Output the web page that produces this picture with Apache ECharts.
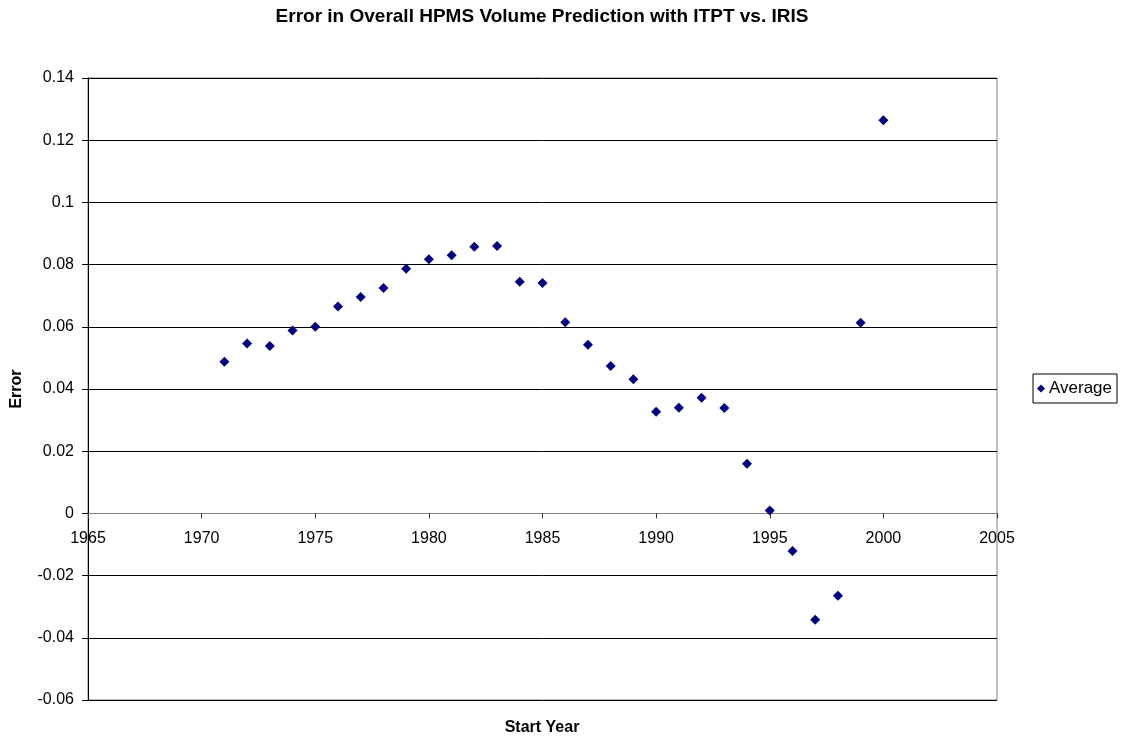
<!DOCTYPE html>
<html>
<head>
<meta charset="utf-8">
<script src="https://cdn.jsdelivr.net/npm/echarts@6/dist/echarts.min.js"></script>
<style>
html,body{margin:0;padding:0;background:#fff;}
#c{width:1123px;height:740px;}
</style>
</head>
<body>
<div id="c"></div>
<script>
var years = [1971,1972,1973,1974,1975,1976,1977,1978,1979,1980,1981,1982,1983,1984,1985,1986,1987,1988,1989,1990,1991,1992,1993,1994,1995,1996,1997,1998,1999,2000];
var average = [0.0488,0.0546,0.0538,0.0588,0.0600,0.0665,0.0696,0.0725,0.0787,0.0817,0.0830,0.0857,0.0860,0.0745,0.0741,0.0615,0.0542,0.0474,0.0431,0.0327,0.0340,0.0372,0.0339,0.0160,0.0009,-0.0121,-0.0342,-0.0265,0.0613,0.1264];
var seriesName = 'Average';
var titleText = 'Error in Overall HPMS Volume Prediction with ITPT vs. IRIS';
var xName = 'Start Year';
var yName = 'Error';

var font = 'Arial, "Liberation Sans", sans-serif';
var gridTop = 78, gridBottom = 40, yMin = -0.06, yMax = 0.14;
var plotH = 740 - gridTop - gridBottom;
var zeroOffset = -plotH * (0 - yMin) / (yMax - yMin);

var chart = echarts.init(document.getElementById('c'));
var pts = years.map(function(y,i){return [y, average[i]];});
chart.setOption({
  animation: false,
  backgroundColor: '#fff',
  graphic: [
    {type: 'text', x: 542, y: 17,
     style: {text: titleText, font: 'bold 19px ' + font, fill: '#000', align: 'center', verticalAlign: 'middle'}},
    {type: 'text', x: 542, y: 728,
     style: {text: xName, font: 'bold 16px ' + font, fill: '#000', align: 'center', verticalAlign: 'middle'}},
    {type: 'text', x: 17, y: 389, rotation: Math.PI/2,
     style: {text: yName, font: 'bold 16px ' + font, fill: '#000', align: 'center', verticalAlign: 'middle'}}
  ],
  legend: {
    left: 1033, top: 374, orient: 'vertical',
    borderColor: '#000', borderWidth: 1, padding: [6, 5, 6, 4],
    itemWidth: 8, itemHeight: 8, itemGap: 4,
    textStyle: {fontFamily: font, fontSize: 17, color: '#000', padding: [0,0,0,-1]},
    data: [{name: seriesName, icon: 'diamond'}]
  },
  grid: {left: 88, right: 126, top: gridTop, bottom: gridBottom, show: true, borderColor: '#808080', borderWidth: 1, backgroundColor: '#fff'},
  xAxis: {
    type: 'value', min: 1965, max: 2005, interval: 5,
    position: 'bottom', offset: zeroOffset,
    axisLine: {show: true, onZero: false, lineStyle: {color: '#808080', width: 1}},
    axisTick: {show: true, inside: false, length: 5, lineStyle: {color: '#333'}},
    axisLabel: {fontFamily: font, fontSize: 16, color: '#000', margin: 17,
      formatter: function(v){ return String(v); }},
    splitLine: {show: false}
  },
  yAxis: {
    type: 'value', min: yMin, max: yMax, interval: 0.02,
    axisLine: {show: true, onZero: false, lineStyle: {color: '#000', width: 1}},
    axisTick: {show: true, length: 6, lineStyle: {color: '#000'}},
    axisLabel: {fontFamily: font, fontSize: 16, color: '#000', margin: 14,
      formatter: function(v){ return String(Math.round(v*100)/100); }},
    splitLine: {show: true, lineStyle: {color: '#000', width: 1}}
  },
  series: [{
    name: seriesName, type: 'scatter', data: pts,
    symbol: 'diamond', symbolSize: 10,
    itemStyle: {color: '#000080', opacity: 1}
  }]
});
</script>
</body>
</html>
